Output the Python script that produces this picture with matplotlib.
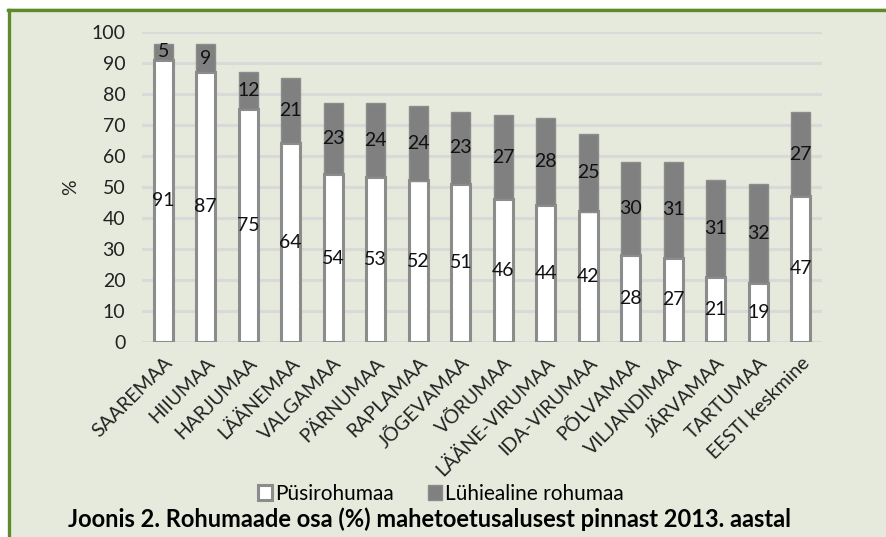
import numpy as np
import matplotlib.pyplot as plt
from matplotlib.patches import Rectangle
from matplotlib.lines import Line2D

plt.rcParams['font.family'] = ['Lato', 'DejaVu Sans']

# data
counties = ['SAAREMAA', 'HIIUMAA', 'HARJUMAA', 'LÄÄNEMAA', 'VALGAMAA', 'PÄRNUMAA',
            'RAPLAMAA', 'JÕGEVAMAA', 'VÕRUMAA', 'LÄÄNE-VIRUMAA', 'IDA-VIRUMAA',
            'PÕLVAMAA', 'VILJANDIMAA', 'JÄRVAMAA', 'TARTUMAA', 'EESTI keskmine']
pysi = [91, 87, 75, 64, 54, 53, 52, 51, 46, 44, 42, 28, 27, 21, 19, 47]
luhi = [5, 9, 12, 21, 23, 24, 24, 23, 27, 28, 25, 30, 31, 31, 32, 27]
yticks = list(range(0, 101, 10))

bg = '#e5eadc'
W, H = 887, 537
fig = plt.figure(figsize=(W / 100, H / 100), dpi=100)
fig.patch.set_facecolor(bg)

# white margin on top/left and the green frame (right/bottom are cut off in the original)
fig.patches.append(Rectangle((0, 1 - 8 / H), 1, 8 / H, transform=fig.transFigure,
                             facecolor='white', edgecolor='none', zorder=-5))
fig.patches.append(Rectangle((0, 0), 8 / W, 1, transform=fig.transFigure,
                             facecolor='white', edgecolor='none', zorder=-5))
fig.lines.append(Line2D([9.5 / W, 9.5 / W], [0, 1 - 9.5 / H], transform=fig.transFigure,
                        color='#5e8a2a', linewidth=2.4, zorder=-4))
fig.lines.append(Line2D([8.3 / W, 1], [1 - 9.5 / H, 1 - 9.5 / H], transform=fig.transFigure,
                        color='#5e8a2a', linewidth=2.4, zorder=-4))

ax = fig.add_axes([142 / W, 1 - 341.7 / H, 680 / W, 310 / H])
ax.set_facecolor('none')
ax.set_zorder(2)

x = np.arange(len(counties))
w = 0.45
b1 = ax.bar(x, pysi, w, color='white', edgecolor='#8c8c8c', linewidth=2.2,
            label='Püsirohumaa', zorder=3)
b2 = ax.bar(x, luhi, w, bottom=pysi, color='#808080', edgecolor='#8c8c8c',
            linewidth=1.0, label='Lühiealine rohumaa', zorder=3)
ax.bar_label(b1, label_type='center', fontsize=14, color='#111111')
ax.bar_label(b2, label_type='center', fontsize=14, color='#111111')

ax.set_xlim(-0.5, len(counties) - 0.5)
ax.set_ylim(0, 100)
ax.set_yticks(yticks)
ax.tick_params(axis='y', length=0, labelsize=14, pad=12, colors='#222222')
ax.tick_params(axis='x', length=0, labelsize=14, pad=9, colors='#222222')
ax.set_xticks(x)
ax.set_xticklabels(counties, rotation=45, ha='right', rotation_mode='anchor')
ax.yaxis.grid(True, color='#d9d9d9', linewidth=2.2, zorder=0)
ax.set_axisbelow(True)
for s in ax.spines.values():
    s.set_visible(False)

ax.set_ylabel('%', fontsize=14, color='#222222')
ax.yaxis.set_label_coords(-0.092, 0.5)

fig.legend(handles=[b1, b2], loc='center', bbox_to_anchor=(441 / W, 1 - 494 / H),
           ncol=2, frameon=False, fontsize=15, handlelength=0.7, handleheight=0.7,
           handletextpad=0.15, columnspacing=1.6)

fig.text(430 / W, 1 - 519 / H,
         'Joonis 2. Rohumaade osa (%) mahetoetusalusest pinnast 2013. aastal',
         ha='center', va='center', fontsize=17, fontweight='bold', color='black')

fig.savefig('out.png', dpi=100, facecolor=fig.get_facecolor())
